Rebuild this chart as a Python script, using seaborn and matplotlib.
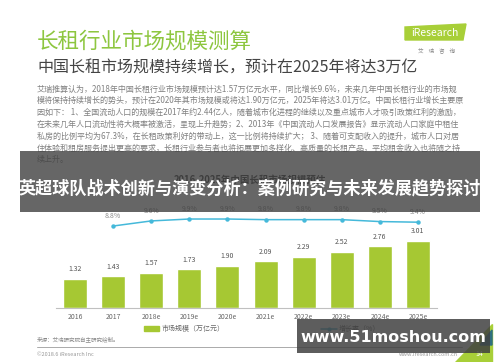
import matplotlib
matplotlib.use("Agg")
import matplotlib.pyplot as plt
import seaborn as sns
import pandas as pd
from matplotlib.patches import Rectangle, Polygon, Patch
from matplotlib.lines import Line2D

# ---------------------------------------------------------------------------
# Dati
# ---------------------------------------------------------------------------

years = ["2016", "2017", "2018e", "2019e", "2020e", "2021e", "2022e", "2023e", "2024e", "2025e"]
market_size = [1.32, 1.43, 1.57, 1.73, 1.90, 2.09, 2.29, 2.52, 2.76, 3.01]
growth_years = ["2017", "2018e", "2019e", "2020e", "2021e", "2022e", "2023e", "2024e", "2025e"]
growth_rate = [8.8, 9.6, 9.9, 9.9, 9.8, 9.8, 9.8, 9.5, 9.4]

title = "长租行业市场规模测算"
subtitle = "中国长租市场规模持续增长，预计在2025年将达3万亿"
body_lines = [
    "艾瑞推算认为，2018年中国长租行业市场规模预计达1.57万亿元水平，同比增长9.6%，未来几年中国长租行业的市场规",
    "模将保持持续增长的势头，预计在2020年其市场规模或将达1.90万亿元，2025年将达3.01万亿。中国长租行业增长主要原",
    "因如下： 1、全国流动人口的规模在2017年约2.44亿人，随着城市化进程的继续以及重点城市人才吸引政策红利的激励，",
    "在未来几年人口流动性将大概率被激活，呈现上升趋势；2、2013年《中国流动人口发展报告》显示流动人口家庭中租住",
    "私房的比例平均为67.3%，在长租政策利好的带动上，这一比例将持续扩大； 3、随着可支配收入的提升，城市人口对居",
    "住体验和租房服务提出更高的要求，长租行业参与者也将拓展更加多样化、高质量的长租产品，平均租金收入也将随之持",
    "续上升。",
]
chart_title = "2016-2025年中国长租市场规模预估"
overlay_title = "英超球队战术创新与演变分析：案例研究与未来发展趋势探讨"
overlay_site = "www.51moshou.com"

GREEN = "#a6c833"
BLUE = "#45b9da"

# ---------------------------------------------------------------------------
# Configurazione
# ---------------------------------------------------------------------------

sns.set_theme(style="white")
plt.rcParams["font.family"] = ["Noto Sans CJK SC", "DejaVu Sans"]

W, H = 500, 362
fig = plt.figure(figsize=(W / 100, H / 100), dpi=100)
fig.patch.set_facecolor("white")


def px(x, y):
    return x / W, 1 - y / H


def testo(x, y, s, **kw):
    fig.text(*px(x, y), s, **kw)


# intestazione
testo(37, 42, title, fontsize=15.5, color="#8dc63f", va="center")
testo(37, 68, subtitle, fontsize=11.5, color="#444444", va="center")
for i, riga in enumerate(body_lines):
    testo(37, 89 + i * 11.8, riga, fontsize=5.8, color="#808080", va="center")

# logo
fig.add_artist(Polygon([px(405, 27), px(466, 24), px(463, 40), px(405, 40)],
                       closed=True, transform=fig.transFigure, color="#a8cf38", zorder=3))
testo(435, 33, "iResearch", fontsize=7.5, color="white", ha="center", va="center", zorder=4)
testo(436, 50, "艾    瑞    咨    询", fontsize=4, color="#888888", ha="center", va="center")

# ---------------------------------------------------------------------------
# Grafico
# ---------------------------------------------------------------------------

testo(250, 180, chart_title, fontsize=6.8, color="#333333", ha="center", va="center", weight="bold")

df = pd.DataFrame({"anno": years, "valore": market_size})
ax = fig.add_axes([56 / W, (H - 308) / H, 381 / W, 108 / H])
ax.patch.set_alpha(0)
sns.barplot(data=df, x="anno", y="valore", color=GREEN, saturation=1, width=0.63, ax=ax)
ax.set_xlim(-0.5, 9.5)
ax.set_ylim(0, 108 / 22.3)
ax.bar_label(ax.containers[0], fmt="%.2f", padding=4, fontsize=5, color="#555555")
ax.set_xlabel("")
ax.set_ylabel("")
ax.set_yticks([])
ax.tick_params(axis="x", length=0, pad=3.5, labelsize=5, labelcolor="#666666")
for lato in ["top", "left", "right"]:
    ax.spines[lato].set_visible(False)
ax.spines["bottom"].set_color("#c0c0c0")
ax.spines["bottom"].set_linewidth(0.8)

ax2 = ax.twinx()
xpos = [years.index(a) for a in growth_years]
sns.lineplot(x=xpos, y=growth_rate, color=BLUE, marker="o", markersize=3.2,
             markeredgewidth=0, linewidth=1.1, ax=ax2)
ax2.set_ylim(-4.09, 12.89)
ax2.set_xlim(-0.5, 9.5)
for xv, yv in zip(xpos, growth_rate):
    ax2.annotate(f"{yv}%", (xv, yv), xytext=(0, 7.5), textcoords="offset points",
                 ha="center", va="center", fontsize=5, color="#888888")
ax2.set_yticks([])
ax2.set_ylabel("")
for lato in ["top", "left", "right", "bottom"]:
    ax2.spines[lato].set_visible(False)

handles = [Patch(color=GREEN),
           Line2D([], [], color=BLUE, marker="o", markersize=3, markeredgewidth=0, linewidth=1.1)]
leg = fig.legend(handles, ["市场规模（万亿元）", "增长率（%）"], loc="center",
                 bbox_to_anchor=px(262, 329), ncol=2, frameon=False, fontsize=5,
                 columnspacing=14, handlelength=2.2, handleheight=0.6, handletextpad=0.3)
for t in leg.get_texts():
    t.set_color("#666666")

# piè di pagina
testo(37, 339, "来源：艾瑞研究院自主研究绘制。", fontsize=4, color="#888888", va="center")
fig.add_artist(Line2D([37 / W, 462 / W], [1 - 347 / H, 1 - 347 / H],
                      transform=fig.transFigure, color="#aaaaaa", linewidth=0.7))
testo(37, 354, "©2018.6 iResearch Inc", fontsize=4, color="#999999", va="center")
testo(458, 354, "www.iresearch.com.cn", fontsize=4, color="#999999", ha="right", va="center")
fig.add_artist(Polygon([px(455, 362), px(492, 362), px(492, 324)], closed=True,
                       transform=fig.transFigure, color="#a8cf38", zorder=3))
fig.add_artist(Polygon([px(480, 345), px(492, 330), px(492, 345)], closed=True,
                       transform=fig.transFigure, color="#2f6f7f", zorder=3))
testo(479, 354, "14", fontsize=5, color="white", ha="center", va="center", zorder=4)

# ---------------------------------------------------------------------------
# Sovrimpressioni
# ---------------------------------------------------------------------------

fig.add_artist(Rectangle(px(20, 212), 460 / W, 61 / H, transform=fig.transFigure,
                         facecolor=(0.25, 0.25, 0.25), alpha=0.8, edgecolor="none", zorder=10))
testo(250, 188, overlay_title, fontsize=12.3, color="white", ha="center", va="center",
      weight="bold", zorder=11)

fig.add_artist(Rectangle(px(297, 353), 193 / W, 34 / H, transform=fig.transFigure,
                         facecolor=(0.25, 0.25, 0.25), alpha=0.85, edgecolor="none", zorder=10))
testo(393, 337, overlay_site, fontsize=11.5, color="white", ha="center", va="center",
      weight="bold", family=["DejaVu Sans"], zorder=11)

fig.savefig("out.png", dpi=100)
plt.close(fig)
